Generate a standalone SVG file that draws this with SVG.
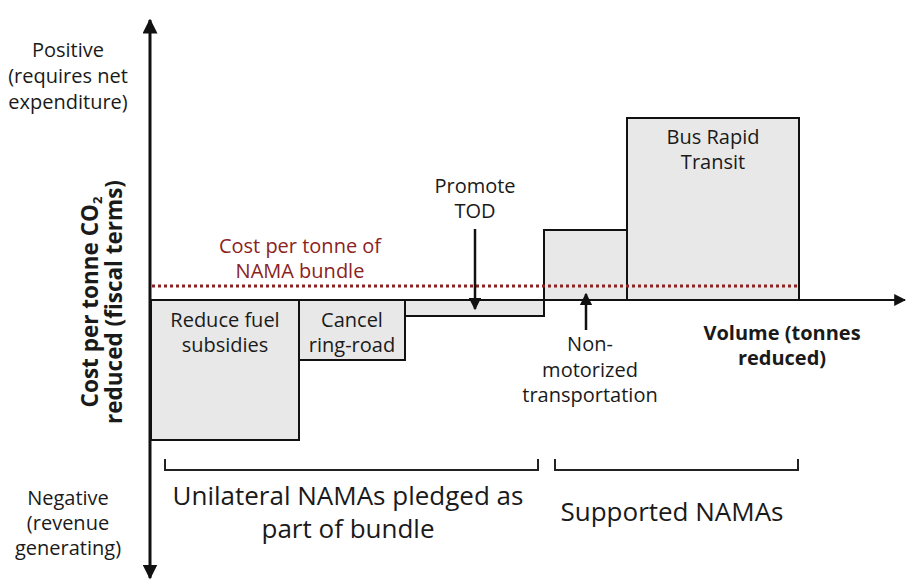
<svg xmlns="http://www.w3.org/2000/svg" width="908" height="584" viewBox="0 0 908 584">
<style>
text{font-family:"Open Sans",Lato,"DejaVu Sans",sans-serif;fill:#1a1a1a;text-anchor:middle}
.t{font-size:20px}
.b{font-size:20px;font-weight:bold}
.yb{font-size:22.5px;font-weight:bold}
.big{font-size:26px}
.red{fill:#8b2323}
.bar{fill:#e8e8e8;stroke:#111;stroke-width:2}
.ax{stroke:#111;stroke-width:3;fill:none}
.ln{stroke:#111;stroke-width:2.5;fill:none}
.br{stroke:#222;stroke-width:2;fill:none}
</style>
<defs>
<marker id="ah" viewBox="0 0 10 10" refX="9" refY="5" markerWidth="5" markerHeight="5" orient="auto" markerUnits="strokeWidth">
<path d="M0,0 L10,5 L0,10 z" fill="#111"/>
</marker>
<marker id="ah2" viewBox="0 0 10 10" refX="9" refY="5" markerWidth="6" markerHeight="6" orient="auto" markerUnits="strokeWidth">
<path d="M0,0 L10,5 L0,10 z" fill="#111"/>
</marker>
</defs>
<rect width="908" height="584" fill="#fff"/>
<g id="bar-fuel"><rect class="bar" x="151" y="300" width="148" height="140"/><text class="t" x="225" y="327">Reduce fuel</text><text class="t" x="225" y="352">subsidies</text></g>
<g id="bar-ring"><rect class="bar" x="299" y="300" width="106" height="60"/><text class="t" x="352" y="327">Cancel</text><text class="t" x="352" y="352">ring-road</text></g>
<g id="bar-tod"><rect class="bar" x="405" y="300" width="139" height="16"/></g>
<g id="bar-nmt"><rect class="bar" x="544" y="230" width="83" height="70"/></g>
<g id="bar-brt"><rect class="bar" x="627" y="118" width="172" height="182"/><text class="t" x="713" y="144">Bus Rapid</text><text class="t" x="713" y="169">Transit</text></g>
<g id="bundle-line"><line x1="152" y1="286" x2="799" y2="286" stroke="#8b2323" stroke-width="3" stroke-dasharray="3 3"/><text class="t red" x="300" y="253">Cost per tonne of</text><text class="t red" x="300" y="278">NAMA bundle</text></g>
<g id="connectors">
<line class="ax" x1="150" y1="300" x2="150" y2="20" marker-end="url(#ah)"/>
<line class="ax" x1="150" y1="300" x2="150" y2="578" marker-end="url(#ah)"/>
<line x1="150" y1="300" x2="905" y2="300" stroke="#111" stroke-width="2" marker-end="url(#ah2)"/>
<line class="ln" x1="475" y1="229" x2="475" y2="309" marker-end="url(#ah)"/>
<line class="ln" x1="586" y1="330" x2="586" y2="294" marker-end="url(#ah)"/>
<path class="br" d="M165,459 V470 H538 V459"/>
<path class="br" d="M555,459 V470 H798 V459"/>
</g>
<g id="label-tod"><text class="t" x="475" y="193">Promote</text><text class="t" x="475" y="218">TOD</text></g>
<g id="label-nmt"><text class="t" x="590" y="351">Non-</text><text class="t" x="590" y="377">motorized</text><text class="t" x="590" y="402">transportation</text></g>
<g id="label-volume"><text class="b" x="782" y="340">Volume (tonnes</text><text class="b" x="782" y="365">reduced)</text></g>
<g id="label-positive"><text class="t" x="68" y="57">Positive</text><text class="t" x="68" y="83">(requires net</text><text class="t" x="68" y="109">expenditure)</text></g>
<g id="label-negative"><text class="t" x="68" y="505">Negative</text><text class="t" x="68" y="530">(revenue</text><text class="t" x="68" y="555">generating)</text></g>
<g id="label-yaxis" transform="translate(0,302) rotate(-90)"><text class="yb" x="0" y="98">Cost per tonne CO<tspan font-size="13" dy="4">2</tspan></text><text class="yb" x="0" y="122">reduced (fiscal terms)</text></g>
<g id="label-unilateral"><text class="big" x="348" y="505">Unilateral NAMAs pledged as</text><text class="big" x="348" y="538">part of bundle</text></g>
<g id="label-supported"><text class="big" x="672" y="521">Supported NAMAs</text></g>
</svg>
